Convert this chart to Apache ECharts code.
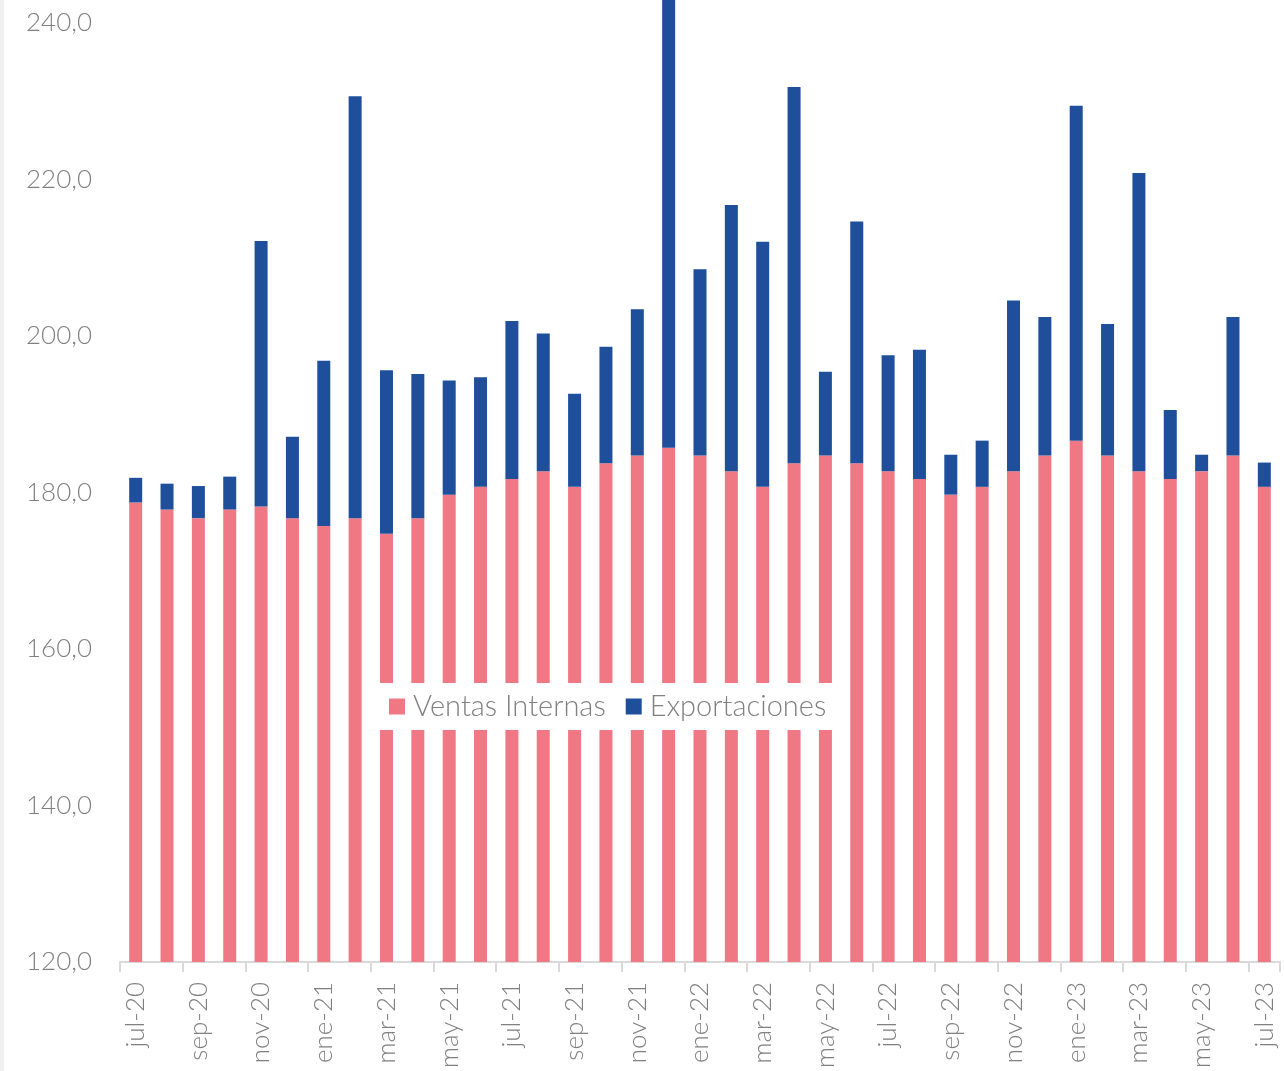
<!DOCTYPE html>
<html>
<head>
<meta charset="utf-8">
<script src="https://cdn.jsdelivr.net/npm/echarts@6/dist/echarts.min.js"></script>
<style>
html,body{margin:0;padding:0;background:#fff;}
#chart{width:1284px;height:1071px;}
</style>
</head>
<body>
<div id="chart"></div>
<script>
const categories = ['jul-20','ago-20','sep-20','oct-20','nov-20','dic-20','ene-21','feb-21','mar-21','abr-21','may-21','jun-21',
  'jul-21','ago-21','sep-21','oct-21','nov-21','dic-21','ene-22','feb-22','mar-22','abr-22','may-22','jun-22',
  'jul-22','ago-22','sep-22','oct-22','nov-22','dic-22','ene-23','feb-23','mar-23','abr-23','may-23','jun-23','jul-23'];
const ventasInternas = [178.7,177.8,176.7,177.8,178.2,176.7,175.7,176.7,174.7,176.7,179.7,180.7,
  181.7,182.7,180.7,183.7,184.7,185.7,184.7,182.7,180.7,183.7,184.7,183.7,
  182.7,181.7,179.7,180.7,182.7,184.7,186.6,184.7,182.7,181.7,182.7,184.7,180.7];
const totales = [181.85,181.1,180.8,182.0,212.1,187.1,196.8,230.6,195.6,195.1,194.3,194.7,
  201.9,200.3,192.6,198.6,203.4,246.0,208.5,216.7,212.0,231.8,195.4,214.6,
  197.5,198.2,184.8,186.6,204.5,202.4,229.4,201.5,220.8,190.5,184.8,202.4,183.8];
const exportaciones = totales.map((t, i) => +(t - ventasInternas[i]).toFixed(2));
const seriesNames = ['Ventas Internas', 'Exportaciones'];

const FONT = 'Lato';
const chart = echarts.init(document.getElementById('chart'));
chart.setOption({
  animation: false,
  backgroundColor: '#ffffff',
  graphic: [{type:'rect', left:0, top:0, shape:{width:4, height:1071}, style:{fill:'#f0f0f0'}}],
  grid: {left: 120, right: 4, top: 0, bottom: 108},
  legend: {
    data: seriesNames,
    left: 380, top: 683,
    backgroundColor: '#ffffff',
    padding: [9, 8, 9, 9],
    itemWidth: 16, itemHeight: 16, itemGap: 20,
    icon: 'rect',
    textStyle: {fontFamily: FONT, fontWeight: 300, fontSize: 29, color: '#808080', padding:[0,0,0,3]}
  },
  xAxis: {
    type: 'category',
    data: categories,
    axisLine: {lineStyle: {color: '#d9d9d9', width: 2}},
    axisTick: {show: true, interval: 1, length: 10, lineStyle: {color: '#d9d9d9', width: 2}},
    axisLabel: {interval: 1, rotate: 90, margin: 20, fontFamily: FONT, fontWeight: 300, fontSize: 26, color: '#808080'}
  },
  yAxis: {
    type: 'value',
    min: 120, max: 242.9, interval: 20,
    axisLine: {show: false}, axisTick: {show: false}, splitLine: {show: false},
    axisLabel: {
      margin: 28, fontFamily: FONT, fontWeight: 300, fontSize: 26, color: '#808080',
      formatter: v => (Math.abs(v % 20) < 1e-6) ? v.toFixed(1).replace('.', ',') : ''
    }
  },
  series: [
    {name: seriesNames[0], type: 'bar', stack: 'total', data: ventasInternas, barWidth: 13,
     itemStyle: {color: '#F07784'}},
    {name: seriesNames[1], type: 'bar', stack: 'total', data: exportaciones, barWidth: 13,
     itemStyle: {color: '#1F4F9B'}}
  ]
});
</script>
</body>
</html>
